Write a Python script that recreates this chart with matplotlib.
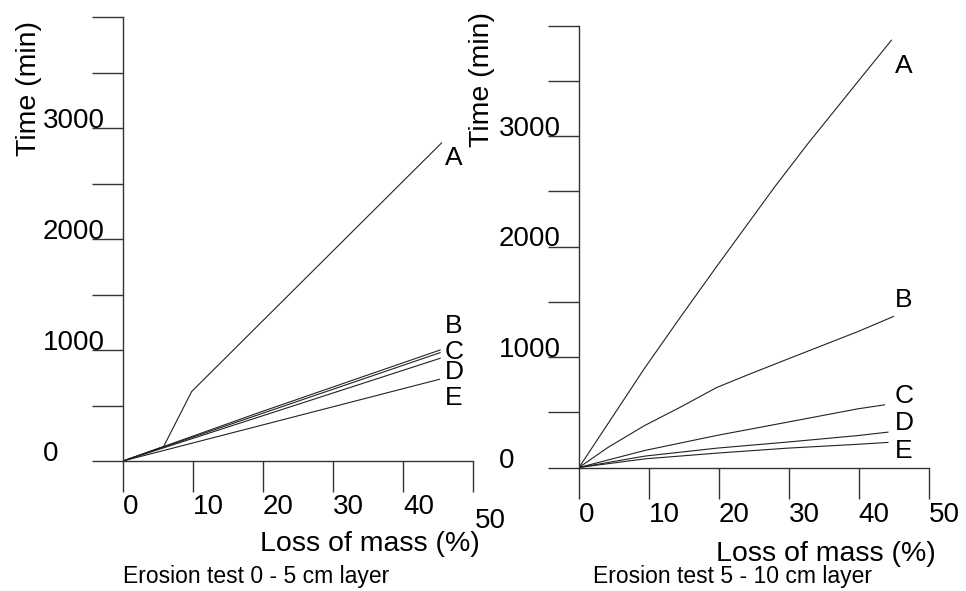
import matplotlib
matplotlib.use('Agg')
import matplotlib.pyplot as plt

plt.rcParams['font.family'] = ['Liberation Sans', 'DejaVu Sans']

# left panel: 0 - 5 cm layer
left_A_x = [0, 5.8, 9.8, 45.5]
left_A_y = [0, 130, 625, 2865]
left_B_x = [0, 19.6, 45.3]
left_B_y = [0, 440, 1000]
left_C_x = [0, 45.3]
left_C_y = [0, 976]
left_D_x = [0, 45.3]
left_D_y = [0, 925]
left_E_x = [0, 45.2]
left_E_y = [0, 736]

# right panel: 5 - 10 cm layer
right_A_x = [0, 9.4, 14.5, 19.7, 24.2, 28.0, 32.8, 40.0, 44.7]
right_A_y = [0, 900, 1360, 1820, 2210, 2540, 2935, 3500, 3867]
right_B_x = [0, 4.2, 9.4, 14.5, 19.7, 24.2, 29.8, 39.9, 45.0]
right_B_y = [0, 184, 380, 546, 724, 840, 980, 1230, 1367]
right_C_x = [0, 9.4, 19.7, 29.8, 39.9, 43.7]
right_C_y = [0, 154, 290, 410, 531, 567]
right_D_x = [0, 9.4, 19.7, 29.8, 39.9, 44.2]
right_D_y = [0, 103, 175, 230, 289, 320]
right_E_x = [0, 9.4, 19.7, 29.8, 39.9, 44.2]
right_E_y = [0, 78, 130, 175, 210, 227]

curve_names = ['A', 'B', 'C', 'D', 'E']
left_label_x = 46.0
left_label_y = [2730, 1216, 985, 805, 565]
right_label_x = 45.2
right_label_y = [3635, 1518, 647, 407, 151]

x_ticks = [0, 10, 20, 30, 40, 50]
y_ticks = [0, 500, 1000, 1500, 2000, 2500, 3000, 3500, 4000]
y_tick_labels = ['0', '', '1000', '', '2000', '', '3000', '', '']

W, H = 966, 591
fig = plt.figure(figsize=(W / 100, H / 100), dpi=100)


def make_ax(x0, x1, y0, y1):
    # pixel box -> figure fractions
    return fig.add_axes([x0 / W, 1 - y0 / H, (x1 - x0) / W, (y0 - y1) / H])


def style_ax(ax, show_50, xpad):
    ax.set_xlim(0, 50)
    ax.set_ylim(0, 4000)
    for s in ['top', 'right']:
        ax.spines[s].set_visible(False)
    for s in ['left', 'bottom']:
        ax.spines[s].set_linewidth(1.0)
        ax.spines[s].set_color('#333333')
    ax.set_xticks(x_ticks)
    ax.set_xticklabels([str(t) if (t != 50 or show_50) else '' for t in x_ticks])
    ax.set_yticks(y_ticks)
    ax.set_yticklabels(y_tick_labels)
    ax.tick_params(axis='both', direction='out', length=22, width=1.0,
                   color='#333333', labelsize=20)
    ax.tick_params(axis='x', pad=xpad)
    ax.tick_params(axis='y', pad=36)
    for lbl in ax.get_xticklabels():
        lbl.set_ha('left')
    for lbl in ax.get_yticklabels():
        lbl.set_ha('left')
        lbl.set_va('baseline')
    ax.patch.set_visible(False)


ax1 = make_ax(123, 473, 461, 17)
ax2 = make_ax(579, 928.5, 467.5, 25.5)
style_ax(ax1, False, 1.8)
style_ax(ax2, True, 3.0)

line_kw = dict(color='#222222', lw=0.8)
ax1.plot(left_A_x, left_A_y, **line_kw)
ax1.plot(left_B_x, left_B_y, **line_kw)
ax1.plot(left_C_x, left_C_y, **line_kw)
ax1.plot(left_D_x, left_D_y, **line_kw)
ax1.plot(left_E_x, left_E_y, **line_kw)

ax2.plot(right_A_x, right_A_y, **line_kw)
ax2.plot(right_B_x, right_B_y, **line_kw)
ax2.plot(right_C_x, right_C_y, **line_kw)
ax2.plot(right_D_x, right_D_y, **line_kw)
ax2.plot(right_E_x, right_E_y, **line_kw)

for name, yv in zip(curve_names, left_label_y):
    ax1.text(left_label_x, yv, name, fontsize=19, ha='left', va='center', clip_on=False)
for name, yv in zip(curve_names, right_label_y):
    ax2.text(right_label_x, yv, name, fontsize=19, ha='left', va='center', clip_on=False)

# the stray "50" of the left panel sits lower than the other tick labels
ax1.annotate('50', xy=(50, 0), xycoords='data', xytext=(1, -43),
             textcoords='offset points', ha='left', va='center', fontsize=20,
             annotation_clip=False)

for ax, lx, ly in [(ax1, -0.231, 0.838), (ax2, -0.240, 0.878)]:
    ax.set_ylabel('Time (min)', fontsize=20.5)
    ax.yaxis.set_label_coords(lx, ly)

ax1.set_xlabel('Loss of mass (%)', fontsize=20.5, va='center')
ax1.xaxis.set_label_coords(0.706, -0.187)
ax2.set_xlabel('Loss of mass (%)', fontsize=20.5, va='center')
ax2.xaxis.set_label_coords(0.707, -0.195)

ax1.text(0.0, -0.261, 'Erosion test 0 - 5 cm layer', transform=ax1.transAxes,
         fontsize=16.5, ha='left', va='center')
ax2.text(0.04, -0.247, 'Erosion test 5 - 10 cm layer', transform=ax2.transAxes,
         fontsize=16.5, ha='left', va='center')

fig.savefig('out.png', dpi=100)
